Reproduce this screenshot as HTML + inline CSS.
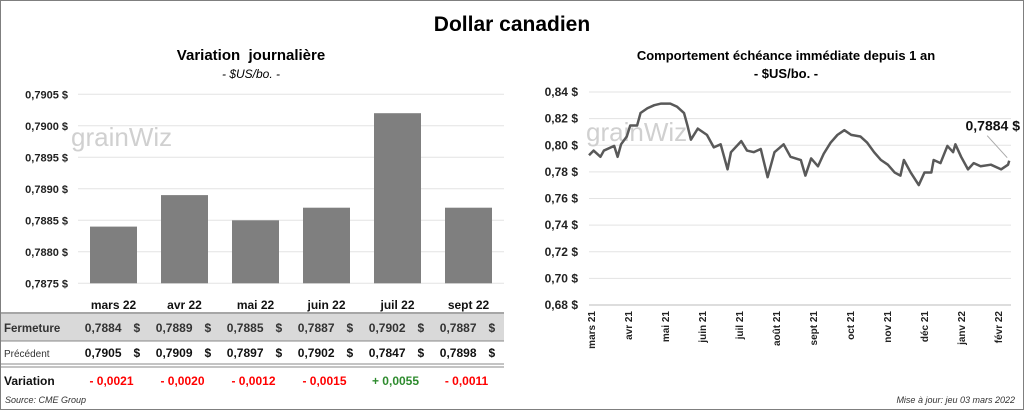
<!DOCTYPE html>
<html><head><meta charset="utf-8"><style>
body{margin:0;background:#fff;font-family:"Liberation Sans",sans-serif;}
#root{position:relative;width:1022px;height:408px;border:1px solid #7f7f7f;overflow:hidden;}
.t{position:absolute;white-space:nowrap;}
</style></head><body>
<div id="root">
<div class="t" style="left:0;width:1022px;top:12px;text-align:center;font-size:21px;font-weight:bold;">Dollar canadien</div>
<div class="t" style="left:40px;width:420px;top:46px;text-align:center;font-size:15px;font-weight:bold;">Variation&nbsp; journalière</div>
<div class="t" style="left:40px;width:420px;top:66px;text-align:center;font-size:12px;font-style:italic;">- $US/bo. -</div>
<div class="t" style="left:560px;width:450px;top:47px;text-align:center;font-size:13px;font-weight:bold;">Comportement échéance immédiate depuis 1 an</div>
<div class="t" style="left:560px;width:450px;top:65px;text-align:center;font-size:13px;font-weight:bold;">- $US/bo. -</div>
<svg id="svg" width="1022" height="408" style="position:absolute;left:0;top:0"></svg>
<div class="t" style="left:4px;top:394px;font-size:9px;font-style:italic;color:#333;">Source: CME Group</div>
<div class="t" style="right:8px;top:394px;font-size:9px;font-style:italic;color:#333;">Mise à jour: jeu 03 mars 2022</div>
</div>
<script>
const months=["mars 22","avr 22","mai 22","juin 22","juil 22","sept 22"];
const closeVals=[0.7884,0.7889,0.7885,0.7887,0.7902,0.7887];
const prevVals=[0.7905,0.7909,0.7897,0.7902,0.7847,0.7898];
const barTicks=[0.7875,0.7880,0.7885,0.7890,0.7895,0.7900,0.7905];
const lineDays=[0,4,10,13,22,25,28,33,36,42,45,51,57,63,71,77,83,86,89,95,103,109,115,121,124,133,138,144,150,156,162,170,176,185,189,194,200,205,211,217,223,229,237,243,249,255,261,267,272,275,281,288,293,299,301,307,313,318,320,325,331,336,342,351,360,366,367];
const lineVals=[0.7925,0.796,0.7913,0.796,0.7995,0.7913,0.8007,0.8066,0.8148,0.8148,0.8242,0.8278,0.8301,0.8313,0.8313,0.8289,0.8242,0.8148,0.8042,0.8125,0.8078,0.7984,0.8007,0.7819,0.7948,0.8031,0.796,0.7948,0.7972,0.776,0.7948,0.8007,0.7913,0.7889,0.7772,0.7901,0.7842,0.7936,0.8019,0.8078,0.8113,0.8078,0.8066,0.8019,0.7948,0.7889,0.7854,0.7795,0.7772,0.7889,0.7795,0.7701,0.7795,0.7795,0.7889,0.7866,0.7995,0.7948,0.8007,0.7913,0.7819,0.7866,0.7842,0.7854,0.7819,0.7854,0.7884];
const lineTicks=[0.68,0.70,0.72,0.74,0.76,0.78,0.80,0.82,0.84];
const lineMonths=["mars 21","avr 21","mai 21","juin 21","juil 21","août 21","sept 21","oct 21","nov 21","déc 21","janv 22","févr 22"];
const NS="http://www.w3.org/2000/svg",svg=document.getElementById('svg');
function mk(tag,attrs,txt){const e=document.createElementNS(NS,tag);for(const k in attrs)e.setAttribute(k,attrs[k]);if(txt!=null)e.textContent=txt;svg.appendChild(e);return e;}
const fmt=(v,d)=>v.toFixed(d).replace('.',',');
const by=v=>282.3-(v-0.7875)/0.0030*189;
const bx=i=>77+35.5+i*71;
barTicks.forEach(v=>{
 let g=mk('line',{x1:77,x2:503,y1:by(v),y2:by(v),stroke:'#e3e3e3','stroke-width':1});
 
 let t=mk('text',{x:67,y:by(v)+4,'text-anchor':'end','font-size':11,'font-weight':'bold',fill:'#222'},fmt(v,4)+' $');
 
});
let w1=mk('text',{x:70,y:145,'font-size':26,fill:'#d0d0d0'},'grainWiz');

closeVals.forEach((v,i)=>{
 let r=mk('rect',{x:bx(i)-23.5,y:by(v),width:47,height:282.3-by(v),fill:'#7f7f7f'});
 
});
let bg=mk('rect',{x:0,y:313,width:503,height:27,fill:'#d9d9d9'});

[[312,1.5],[340,1],[363,1],[366,1]].forEach(([y,w])=>{let l=mk('line',{x1:0,x2:503,y1:y,y2:y,stroke:'#888','stroke-width':w});});
let l1=mk('text',{x:3,y:331,'font-size':11.5,'font-weight':'bold',fill:'#333'},'Fermeture');
let l2=mk('text',{x:3,y:356,'font-size':10,fill:'#333'},'Précédent');
let l3=mk('text',{x:3,y:384,'font-size':12,'font-weight':'bold',fill:'#111'},'Variation');
months.forEach((m,i)=>{
 const c=bx(i);
 let h=mk('text',{x:c,y:308,'text-anchor':'middle','font-size':12,'font-weight':'bold',fill:'#111'},m);
 
 let a=mk('text',{x:c+8,y:331,'text-anchor':'end','font-size':12,'font-weight':'bold',fill:'#333'},fmt(closeVals[i],4));
 
 let a2=mk('text',{x:c+20,y:331,'text-anchor':'start','font-size':12,'font-weight':'bold',fill:'#333'},'$');
 
 let b=mk('text',{x:c+8,y:356,'text-anchor':'end','font-size':12,'font-weight':'bold',fill:'#111'},fmt(prevVals[i],4));
 
 let b2=mk('text',{x:c+20,y:356,'text-anchor':'start','font-size':12,'font-weight':'bold',fill:'#111'},'$');
 
 const d=closeVals[i]-prevVals[i];
 let v=mk('text',{x:c-2,y:384,'text-anchor':'middle','font-size':12,'font-weight':'bold',fill:d>=0?'#2e8b2e':'#ff0000'},(d>=0?'+ ':'- ')+fmt(Math.abs(d),4));
 
});
const ly=v=>304-(v-0.68)/0.16*213;
const lx=d=>588+d*1.145;
lineTicks.forEach(v=>{
 let g=mk('line',{x1:588,x2:1010,y1:ly(v),y2:ly(v),stroke:'#e3e3e3','stroke-width':1});
 
 let t=mk('text',{x:577,y:ly(v)+4,'text-anchor':'end','font-size':12,'font-weight':'bold',fill:'#222'},fmt(v,2)+' $');
 
});
let ax=mk('line',{x1:588,x2:1010,y1:304,y2:304,stroke:'#bbb'});
let w2=mk('text',{x:585,y:140,'font-size':26,fill:'#d0d0d0'},'grainWiz');

lineMonths.forEach((m,i)=>{
 const x=594+i*37.0;
 let t=mk('text',{x:x,y:310,'text-anchor':'end','font-size':10,'font-weight':'bold',fill:'#222',transform:`rotate(-90 ${x} 310)`},m);
 
});
let p=mk('polyline',{points:lineDays.map((d,i)=>lx(d)+','+ly(lineVals[i])).join(' '),fill:'none',stroke:'#595959','stroke-width':2.5,'stroke-linejoin':'round'});

const last=lineVals[lineVals.length-1],lxd=lx(lineDays[lineDays.length-1]);
let cl=mk('line',{x1:lxd-2,y1:ly(last)-3,x2:lxd-22,y2:ly(last)-25,stroke:'#aaa'});
let ct=mk('text',{x:1019,y:ly(last)-30,'text-anchor':'end','font-size':14,'font-weight':'bold',fill:'#111'},fmt(last,4)+' $');

</script>
</body></html>
